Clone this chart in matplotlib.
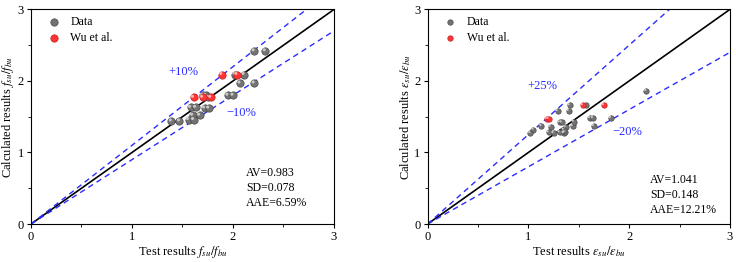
import matplotlib
matplotlib.use("Agg")
import matplotlib.pyplot as plt
import matplotlib.transforms as mtransforms
import numpy as np

plt.rcParams['font.family'] = ['Liberation Serif', 'DejaVu Serif']
plt.rcParams['mathtext.fontset'] = 'stix'

# Left panel: strength ratio
f_data_x = [2.21, 2.32, 2.02, 2.11, 2.07, 2.21, 1.95, 2.00, 1.70, 1.73, 1.75,
            1.58, 1.63, 1.72, 1.76, 1.60, 1.67, 1.39, 1.47, 1.56, 1.61]
f_data_y = [2.42, 2.42, 2.09, 2.09, 1.97, 1.97, 1.80, 1.80, 1.80, 1.80, 1.77,
            1.63, 1.63, 1.62, 1.62, 1.52, 1.52, 1.44, 1.44, 1.46, 1.46]
f_wu_x = [1.61, 1.70, 1.78, 1.89, 2.04]
f_wu_y = [1.77, 1.77, 1.77, 2.09, 2.09]

# Right panel: strain ratio
e_data_x = [2.17, 1.82, 1.65, 1.61, 1.64, 1.57, 1.41, 1.40, 1.29, 1.44, 1.45,
            1.31, 1.33, 1.13, 1.22, 1.05, 1.02, 1.20, 1.25, 1.31, 1.35, 1.36,
            1.37, 1.35]
e_data_y = [1.86, 1.48, 1.37, 1.48, 1.48, 1.66, 1.66, 1.58, 1.58, 1.37, 1.43,
            1.42, 1.42, 1.37, 1.36, 1.32, 1.27, 1.28, 1.27, 1.28, 1.27, 1.28,
            1.35, 1.32]
e_wu_x = [1.18, 1.20, 1.54, 1.75]
e_wu_y = [1.47, 1.47, 1.66, 1.66]

left_factors = (1.10, 0.90)
right_factors = (1.25, 0.80)

fig = plt.figure(figsize=(7.36, 2.62), dpi=100)
ax1 = fig.add_axes([0.0421, 0.145, 0.4117, 0.819])
ax2 = fig.add_axes([0.581, 0.145, 0.4107, 0.819])

blue = '#2b2bff'

def setup(ax, dx, dy, wx, wy, factors, labels, stats, lab_pos, stats_pos, xlabel, ylabel, ms):
    ax.set_xlim(0, 3)
    ax.set_ylim(0, 3)
    ax.set_xticks([0, 1, 2, 3])
    ax.set_yticks([0, 1, 2, 3])
    ax.set_xticks([0.5, 1.5, 2.5], minor=True)
    ax.set_yticks([0.5, 1.5, 2.5], minor=True)
    ax.tick_params(which='both', direction='out', labelsize=9, top=False, right=False, pad=2)
    ax.tick_params(which='major', length=3)
    ax.tick_params(which='minor', length=2)
    for sp in ax.spines.values():
        sp.set_linewidth(0.8)
    xs = np.array([0, 3])
    ax.plot(xs, xs, color='black', lw=1.2, zorder=2)
    for f in factors:
        ax.plot(xs, f * xs, color=blue, lw=1.0, ls=(0, (4, 3)), zorder=2)
    ax.scatter(dx, dy, s=ms, facecolor='#737373', edgecolor='#4a4a4a', linewidth=0.5, zorder=3, label='Data')
    ax.scatter(wx, wy, s=ms, facecolor='#ff3434', edgecolor='#c02020', linewidth=0.5, zorder=4, label='Wu et al.')
    off = mtransforms.ScaledTranslation(-0.8 / 72, 0.8 / 72, fig.dpi_scale_trans)
    ax.scatter(dx, dy, s=ms * 0.18, facecolor='#c8c8c8', edgecolor='none', zorder=3.5,
               transform=ax.transData + off)
    ax.scatter(wx, wy, s=ms * 0.18, facecolor='#ffb0b0', edgecolor='none', zorder=4.5,
               transform=ax.transData + off)
    for t, (px, py) in zip(labels, lab_pos):
        ax.text(px, py, t, color=blue, fontsize=9, va='center', ha='left')
    for i, t in enumerate(stats):
        ax.text(stats_pos[0], stats_pos[1] - i * 0.21, t, fontsize=8.5, va='center', ha='left')
    ax.set_xlabel(xlabel, fontsize=9, labelpad=1)
    ax.set_ylabel(ylabel, fontsize=9, labelpad=1)
    ax.legend(loc='upper left', frameon=False, fontsize=8.5, handletextpad=0.9,
              handlelength=1.0, borderaxespad=0.0, labelspacing=0.35,
              bbox_to_anchor=(0.04, 0.99))

setup(ax1, f_data_x, f_data_y, f_wu_x, f_wu_y, left_factors,
      ['+10%', '\u221210%'], ['AV=0.983', 'SD=0.078', 'AAE=6.59%'],
      [(1.36, 2.13), (1.93, 1.55)], (2.13, 0.72),
      r'Test results $f_{su}/f_{bu}$', r'Calculated results $f_{su}/f_{bu}$', 28)
setup(ax2, e_data_x, e_data_y, e_wu_x, e_wu_y, right_factors,
      ['+25%', '\u221220%'], ['AV=1.041', 'SD=0.148', 'AAE=12.21%'],
      [(0.99, 1.93), (1.83, 1.28)], (2.21, 0.62),
      r'Test results $\varepsilon_{su}/\varepsilon_{bu}$', r'Calculated results $\varepsilon_{su}/\varepsilon_{bu}$', 15)

fig.savefig('out.png', dpi=100)
